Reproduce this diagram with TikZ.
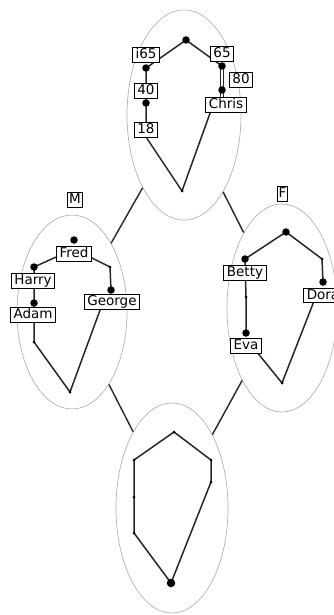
\documentclass[tikz,border=0pt]{standalone}
\usepackage{fontspec}
\setmainfont{DejaVu Sans}
\usetikzlibrary{shapes.geometric}
\tikzset{
  grp/.style={ellipse, draw=black!30, line width=0.7pt, inner sep=0pt},
  lbl/.style={draw=black, fill=white, line width=1.2pt, font=\fontsize{13.5}{15}\selectfont, inner xsep=3.2pt, inner ysep=0.8pt, text height=10pt, text depth=2.8pt},
  big/.style={circle, fill=black, inner sep=0pt, minimum size=7.5pt},
  sml/.style={circle, fill=black, inner sep=0pt, minimum size=3pt},
  edge/.style={draw=black!85, line width=1.5pt},
  conn/.style={draw=black!85, line width=1.4pt},
}
\begin{document}
\begin{tikzpicture}[x=1pt,y=-1pt]
\useasboundingbox (0,0) rectangle (334,615);
% group ellipses
\node[grp, minimum width=114pt, minimum height=210pt] (etop) at (184,115) {};
\node[grp, minimum width=110pt, minimum height=194pt] (eleft) at (72,312) {};
\node[grp, minimum width=110pt, minimum height=208pt] (eright) at (282,308) {};
\node[grp, minimum width=112pt, minimum height=210pt] (ebot) at (172,508) {};
% connectors between groups
\draw[conn] (etop) -- (eleft);
\draw[conn] (etop) -- (eright);
\draw[conn] (eleft) -- (ebot);
\draw[conn] (eright) -- (ebot);
% group labels
\node[lbl, inner xsep=2pt] (lm) at (75,200) {M};
\node[lbl, inner xsep=1.5pt] (lf) at (282.5,194) {F};

% ---- top tree ----
\coordinate (troot) at (186,40);
\coordinate (ti65) at (146,68);
\coordinate (t40) at (146,103);
\coordinate (t18) at (146,137);
\coordinate (tbot) at (182,191);
\coordinate (t65) at (222,66);
\coordinate (t80) at (222,90);
\coordinate (tchris) at (213,105);
\coordinate (t65a) at (220.8,66);
\coordinate (t65b) at (223.6,66);
\coordinate (tca) at (220.8,99);
\coordinate (tcb) at (223.6,99);
\draw[edge] (tbot) -- (t18) -- (t40) -- (ti65) -- (troot) -- (t65);
\draw[edge, line width=1.2pt] (t65a) -- (tca);
\draw[edge, line width=1.2pt] (t65b) -- (tcb);
\draw[edge] (tbot) -- (tchris);
\node[lbl] (ni65) at (146,55) {i65};
\node[lbl] (n40) at (146,91) {40};
\node[lbl] (n18) at (146,130) {18};
\node[lbl] (n65) at (222,54) {65};
\node[lbl] (n80) at (241,80) {80};
\node[lbl] (nchris) at (226,105) {Chris};
\node[big] (droot) at (troot) {};
\node[big] (di65) at (ti65) {};
\node[big] (d40) at (t40) {};
\node[big] (d65) at (t65) {};
\node[big] (d80) at (t80) {};
\node[sml] (dtbot) at (tbot) {};

% ---- left tree (M) ----
\coordinate (lfred) at (74,240);
\coordinate (lfredc) at (74,249);
\coordinate (lharry) at (34,267);
\coordinate (ladam) at (34,303);
\coordinate (ladamlow) at (34,342);
\coordinate (lbot) at (70,392);
\coordinate (lmid) at (110,267);
\coordinate (lgeorge) at (111,290);
\coordinate (lgeoc) at (103,302);
\draw[edge] (lharry) -- (lfredc) -- (lmid) -- (lgeorge);
\draw[edge] (lharry) -- (ladam) -- (ladamlow) -- (lbot) -- (lgeoc);
\node[lbl] (nfred) at (74,254) {Fred};
\node[lbl] (nharry) at (33,281) {Harry};
\node[lbl] (nadam) at (33,315) {Adam};
\node[lbl] (ngeorge) at (112,302) {George};
\node[big] (dfred) at (lfred) {};
\node[big] (dharry) at (lharry) {};
\node[big] (dadam) at (ladam) {};
\node[big] (dgeorge) at (lgeorge) {};
\node[sml] (dlmid) at (lmid) {};
\node[sml] (dladamlow) at (ladamlow) {};
\node[sml] (dlbot) at (lbot) {};

% ---- right tree (F) ----
\coordinate (rroot) at (286,232);
\coordinate (rbetty) at (245,259);
\coordinate (rmid) at (246,297);
\coordinate (reva) at (246,333);
\coordinate (revac) at (252,346);
\coordinate (rbot) at (282,383);
\coordinate (rdorac) at (316,296);
\coordinate (rdora) at (323,282);
\coordinate (rtop) at (322,259);
\draw[edge] (rbetty) -- (rroot) -- (rtop) -- (rdora);
\draw[edge] (rbetty) -- (rmid) -- (reva);
\draw[edge] (revac) -- (rbot) -- (rdorac);
\node[lbl] (nbetty) at (245,273) {Betty};
\node[lbl] (neva) at (246,346) {Eva};
\node[lbl] (ndora) at (323,295.5) {Dora};
\node[big] (drroot) at (rroot) {};
\node[big] (drbetty) at (rbetty) {};
\node[big] (dreva) at (reva) {};
\node[big] (drdora) at (rdora) {};
\node[sml] (drmid) at (rmid) {};
\node[sml] (drtop) at (rtop) {};
\node[sml] (drbot) at (rbot) {};

% ---- bottom polygon ----
\coordinate (b1) at (174,432);
\coordinate (b2) at (134,460);
\coordinate (b3) at (134,497);
\coordinate (b4) at (134,533);
\coordinate (b5) at (171,583);
\coordinate (b6) at (211,482);
\coordinate (b7) at (211,460);
\draw[edge] (b1) -- (b2) -- (b3) -- (b4) -- (b5) -- (b6) -- (b7) -- cycle;
\node[sml] (db1) at (b1) {};
\node[sml] (db2) at (b2) {};
\node[sml] (db3) at (b3) {};
\node[sml] (db4) at (b4) {};
\node[big, minimum size=8.5pt] (db5) at (b5) {};
\node[sml] (db6) at (b6) {};
\node[sml] (db7) at (b7) {};
\end{tikzpicture}
\end{document}
